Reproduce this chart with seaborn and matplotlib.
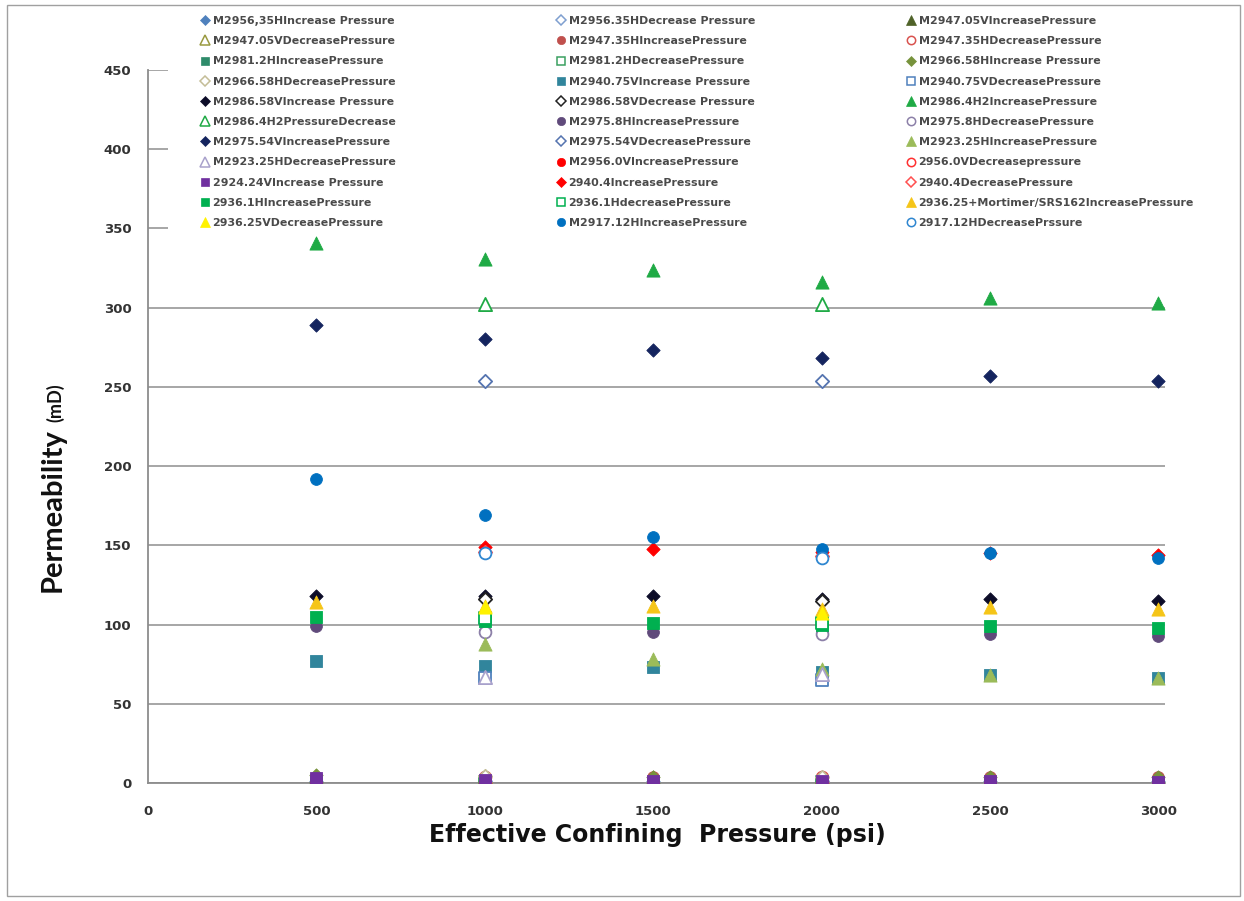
import numpy as np
import pandas as pd
import matplotlib
matplotlib.use("Agg")
import matplotlib.pyplot as plt
import seaborn as sns
from matplotlib.lines import Line2D
from matplotlib.patches import Rectangle

nan = np.nan

# Effective confining pressure steps (psi)
pressure = [500, 1000, 1500, 2000, 2500, 3000]

# Permeability (mD) per sample and loading direction
m2956_35h_inc = [1.5, 1.5, 1.5, 1.5, 1.5, 1.5]
m2956_35h_dec = [nan, 1.2, nan, 1.2, nan, nan]
m2947_05v_inc = [4.5, 4.0, 3.5, 3.5, 3.0, 3.0]
m2947_05v_dec = [nan, 3.5, nan, 3.0, nan, nan]
m2947_35h_inc = [3.0, 3.5, 3.5, 3.5, 3.5, 3.5]
m2947_35h_dec = [nan, 3.5, nan, 3.8, nan, nan]
m2981_2h_inc = [0.8, 0.6, 0.5, 0.5, 0.5, 0.5]
m2981_2h_dec = [nan, 0.6, nan, 0.5, nan, nan]
m2966_58h_inc = [5.0, 4.5, 4.0, 4.0, 4.0, 4.0]
m2966_58h_dec = [nan, 4.5, nan, 4.0, nan, nan]
m2940_75v_inc = [77, 74, 73, 70, 68, 66]
m2940_75v_dec = [nan, 66, nan, 65, nan, nan]
m2986_58v_inc = [118, 118, 118, 116, 116, 115]
m2986_58v_dec = [nan, 116, nan, 115, nan, nan]
m2986_4h2_inc = [341, 331, 324, 316, 306, 303]
m2986_4h2_dec = [nan, 302, nan, 302, nan, nan]
m2975_8h_inc = [99, 96, 95, 95, 94, 93]
m2975_8h_dec = [nan, 95, nan, 94, nan, nan]
m2975_54v_inc = [289, 280, 273, 268, 257, 254]
m2975_54v_dec = [nan, 254, nan, 254, nan, nan]
m2923_25h_inc = [nan, 88, 78, 72, 68, 66]
m2923_25h_dec = [nan, 67, nan, 69, nan, nan]
m2956_0v_inc = [0.0, 0.0, 0.0, 0.0, 0.0, 0.0]
m2956_0v_dec = [nan, 0.3, nan, 0.3, nan, nan]
s2924_24v_inc = [3.0, 2.0, 1.5, 1.5, 1.0, 0.5]
s2940_4_inc = [nan, 149, 148, 146, 145, 144]
s2940_4_dec = [nan, 146, nan, 143, nan, nan]
s2936_1h_inc = [105, 102, 101, 100, 99, 98]
s2936_1h_dec = [nan, 104, nan, 101, nan, nan]
s2936_25_mortimer_inc = [114, 112, 112, 110, 111, 110]
s2936_25v_dec = [nan, 111, nan, 107, nan, nan]
m2917_12h_inc = [192, 169, 155, 148, 145, 142]
s2917_12h_dec = [nan, 145, nan, 142, nan, nan]

labels = [
    "M2956,35HIncrease Pressure", "M2956.35HDecrease Pressure", "M2947.05VIncreasePressure",
    "M2947.05VDecreasePressure", "M2947.35HIncreasePressure", "M2947.35HDecreasePressure",
    "M2981.2HIncreasePressure", "M2981.2HDecreasePressure", "M2966.58HIncrease Pressure",
    "M2966.58HDecreasePressure", "M2940.75VIncrease Pressure", "M2940.75VDecreasePressure",
    "M2986.58VIncrease Pressure", "M2986.58VDecrease Pressure", "M2986.4H2IncreasePressure",
    "M2986.4H2PressureDecrease", "M2975.8HIncreasePressure", "M2975.8HDecreasePressure",
    "M2975.54VIncreasePressure", "M2975.54VDecreasePressure", "M2923.25HIncreasePressure",
    "M2923.25HDecreasePressure", "M2956.0VIncreasePressure", "2956.0VDecreasepressure",
    "2924.24VIncrease Pressure", "2940.4IncreasePressure", "2940.4DecreasePressure",
    "2936.1HIncreasePressure", "2936.1HdecreasePressure", "2936.25+Mortimer/SRS162IncreasePressure",
    "2936.25VDecreasePressure", "M2917.12HIncreasePressure", "2917.12HDecreasePrssure",
]

values = [
    m2956_35h_inc, m2956_35h_dec, m2947_05v_inc,
    m2947_05v_dec, m2947_35h_inc, m2947_35h_dec,
    m2981_2h_inc, m2981_2h_dec, m2966_58h_inc,
    m2966_58h_dec, m2940_75v_inc, m2940_75v_dec,
    m2986_58v_inc, m2986_58v_dec, m2986_4h2_inc,
    m2986_4h2_dec, m2975_8h_inc, m2975_8h_dec,
    m2975_54v_inc, m2975_54v_dec, m2923_25h_inc,
    m2923_25h_dec, m2956_0v_inc, m2956_0v_dec,
    s2924_24v_inc, s2940_4_inc, s2940_4_dec,
    s2936_1h_inc, s2936_1h_dec, s2936_25_mortimer_inc,
    s2936_25v_dec, m2917_12h_inc, s2917_12h_dec,
]

# Marker shape, colour and fill for each series
markers = [
    "D", "D", "^", "^", "o", "o", "s", "s", "D", "D", "s", "s",
    "D", "D", "^", "^", "o", "o", "D", "D", "^", "^", "o", "o",
    "s", "D", "D", "s", "s", "^", "^", "o", "o",
]
colors = [
    "#4F81BD", "#7F9FD0", "#4F6228", "#9A9A40", "#C0504D", "#D9524E",
    "#2E8B6A", "#3BA060", "#77933C", "#C4BD97", "#31859C", "#4F81BD",
    "#0C0C28", "#222222", "#1FAA45", "#1FAA45", "#604A7B", "#8C80A8",
    "#14245E", "#5574B0", "#9BBB59", "#A9A2CC", "#FF0000", "#FF3030",
    "#7030A0", "#FF0000", "#FF5050", "#00B050", "#00B050", "#F5C518",
    "#FFF200", "#0070C0", "#2E86D0",
]
filled = [
    True, False, True, False, True, False, True, False, True, False, True, False,
    True, False, True, False, True, False, True, False, True, False, True, False,
    True, True, False, True, False, True, True, True, False,
]

W, H = 1244, 901
sns.set_theme(style="white")
plt.rcParams["font.family"] = ["DejaVu Sans"]

fig = plt.figure(figsize=(W / 100, H / 100), dpi=100)
ax = fig.add_axes([148 / W, 118 / H, (1165 - 148) / W, (783 - 70) / H])

plot_size = {"o": 72, "s": 72, "^": 90, "D": 46}
for name, vals, mk, col, fill in zip(labels, values, markers, colors, filled):
    df = pd.DataFrame({"pressure": pressure, "perm": vals}).dropna()
    sns.scatterplot(
        data=df, x="pressure", y="perm", ax=ax, marker=mk, s=plot_size[mk],
        color=col if fill else "white", edgecolor=col,
        linewidth=0.6 if fill else 1.3, legend=False, zorder=3,
    )

ax.set_xlim(0, 3020)
ax.set_ylim(0, 450)
ax.set_xticks(range(0, 3001, 500))
ax.set_yticks(range(0, 451, 50))
ax.grid(axis="y", color="#a6a6a6", linewidth=1.4, zorder=0)
ax.grid(axis="x", visible=False)
for side in ["top", "right"]:
    ax.spines[side].set_visible(False)
for side in ["left", "bottom"]:
    ax.spines[side].set_color("#8c8c8c")
    ax.spines[side].set_linewidth(1.3)
ax.tick_params(axis="both", length=0, labelsize=9.5, labelcolor="#333333")
ax.tick_params(axis="y", pad=12)
ax.tick_params(axis="x", pad=16)
for t in ax.get_xticklabels() + ax.get_yticklabels():
    t.set_fontweight("bold")
ax.set_xlabel("")
ax.set_ylabel("")

# Axis titles
fig.text(657 / W, 1 - 835 / H, "Effective Confining  Pressure (psi)", ha="center",
         va="center", fontsize=17, fontweight="bold", color="#111111")
renderer = fig.canvas.get_renderer()
t_perm = fig.text(61 / W, 1 - 592 / H, "Permeability", rotation=90, rotation_mode="anchor",
                  ha="left", va="baseline", fontsize=21, fontweight="bold", family="Lato",
                  color="#111111")
ext = t_perm.get_window_extent(renderer)
fig.text(61 / W, (ext.y1 + 6) / H, "(mD)", rotation=90, rotation_mode="anchor",
         ha="left", va="baseline", fontsize=13, fontweight="bold", family="Lato",
         color="#111111")

# White panel behind the legend
fig.add_artist(Rectangle((168 / W, 1 - 233 / H), (1215 - 168) / W, (233 - 8) / H,
                         transform=fig.transFigure, facecolor="white", edgecolor="none",
                         zorder=2))

# Legend in three columns, filled row by row
handles = [
    Line2D([], [], linestyle="none", marker=mk,
           markersize=(6.5 if mk == "^" else 5.2 if mk == "D" else 6),
           markerfacecolor=col if fill else "white", markeredgecolor=col,
           markeredgewidth=0.5 if fill else 1.1)
    for mk, col, fill in zip(markers, colors, filled)
]
col_x = [201, 557, 907]
for c in range(3):
    fig.legend(handles[c::3], labels[c::3], loc="upper left",
               bbox_to_anchor=(col_x[c] / W, 1 - 16 / H), frameon=False, borderpad=0,
               handlelength=0.8, handletextpad=0.25, labelspacing=0.93,
               prop={"size": 7.9, "weight": "bold"},
               labelcolor="#4a4a4a", borderaxespad=0)

# Chart border
fig.add_artist(Rectangle((7 / W, 5 / H), (1240 - 7) / W, (896 - 5) / H,
                         transform=fig.transFigure, facecolor="none",
                         edgecolor="#a0a0a0", linewidth=1.0, zorder=1))

fig.savefig("out.png", dpi=100, facecolor="white")
